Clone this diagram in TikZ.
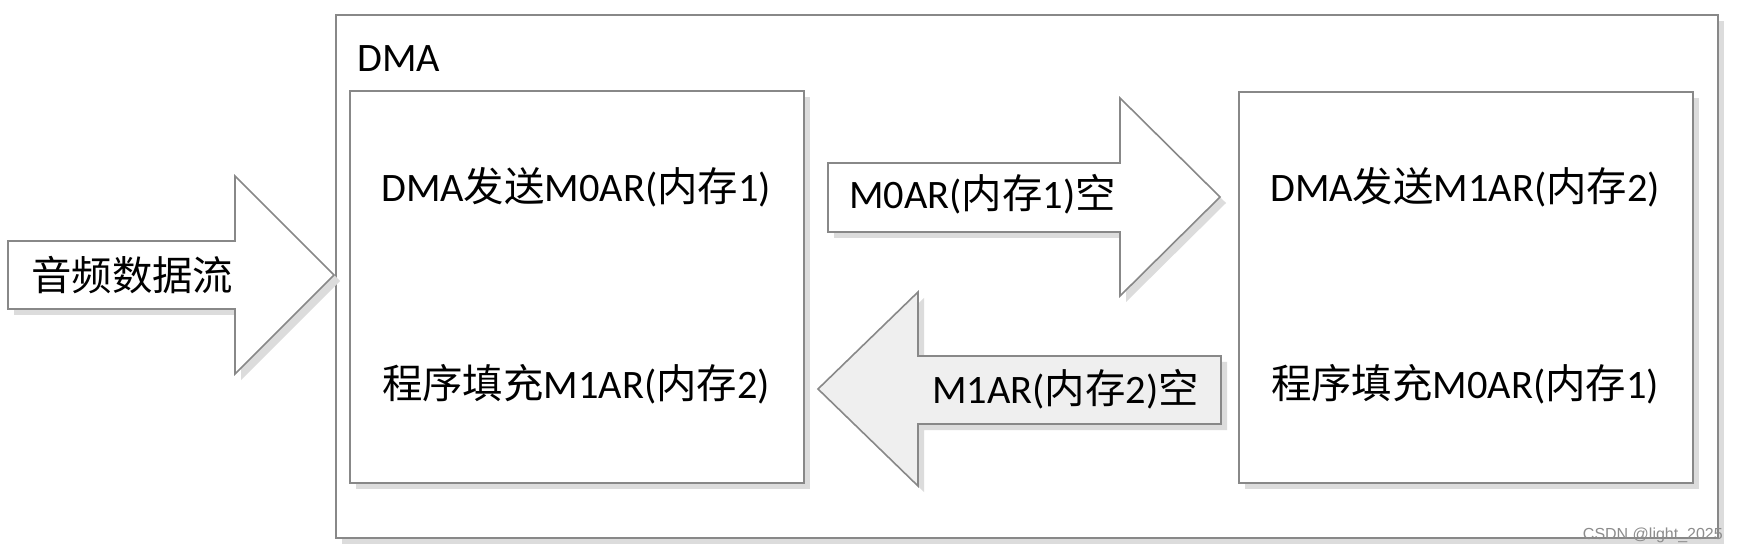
\documentclass[tikz,border=0pt]{standalone}
\usepackage{fontspec}
\setmainfont{Carlito}
\newfontfamily\cjk{Noto Sans CJK SC}
\newfontfamily\wmfont{Liberation Sans}
\newcommand{\zh}[1]{{\cjk #1}}
\usetikzlibrary{shadows}
\definecolor{linec}{HTML}{888888}
\definecolor{shadc}{HTML}{DCDCDC}
\definecolor{fillb}{HTML}{EFEFEF}
\tikzset{
  boxline/.style={draw=linec, line width=1.6pt},
  shad/.style={drop shadow={shadow xshift=6pt, shadow yshift=-6pt, fill=shadc, opacity=1}},
  panel/.style={boxline, shad, fill=white, anchor=north west, inner sep=0pt},
  bigtext/.style={inner sep=0pt, font=\fontsize{40.4}{48}\selectfont, text=black},
  arrowshape/.style={boxline, shad, line join=miter},
}
\begin{document}
\begin{tikzpicture}[x=1pt,y=-1pt]
\useasboundingbox[fill=white] (0,0) rectangle (1738,553);
% outer DMA box
\node[panel, minimum width=1382pt, minimum height=523pt] (dma) at (335,14) {};
\node[bigtext, anchor=base west] (dmalabel) at (357,72) {DMA};
% inner boxes
\node[panel, minimum width=454pt, minimum height=392pt] (left) at (349,90) {};
\node[panel, minimum width=454pt, minimum height=391pt] (right) at (1238,91) {};
% input arrow
\draw[arrowshape, fill=white] (8,241) -- (235,241) -- (235,176) -- (334,275) -- (235,374) -- (235,309) -- (8,309) -- cycle;
\node[bigtext, anchor=west] (input) at (31,275) {\zh{音频数据流}};
% arrow right (M0AR empty)
\draw[arrowshape, fill=white] (828,163) -- (1120,163) -- (1120,98) -- (1220,197) -- (1120,296) -- (1120,232) -- (828,232) -- cycle;
\node[bigtext, anchor=base west] (a1) at (849,209) {M0AR(\zh{内存}1)\zh{空}};
% arrow left (M1AR empty)
\draw[arrowshape, fill=fillb] (1221,356) -- (918,356) -- (918,292) -- (818,389) -- (918,486) -- (918,424) -- (1221,424) -- cycle;
\node[bigtext, anchor=base east] (a2) at (1199,403) {M1AR(\zh{内存}2)\zh{空}};
% texts in boxes
\node[bigtext, anchor=base] (l1) at (576,202) {DMA\zh{发送}M0AR(\zh{内存}1)};
\node[bigtext, anchor=base] (l2) at (576,399) {\zh{程序填充}M1AR(\zh{内存}2)};
\node[bigtext, anchor=base] (r1) at (1465,202) {DMA\zh{发送}M1AR(\zh{内存}2)};
\node[bigtext, anchor=base] (r2) at (1465,399) {\zh{程序填充}M0AR(\zh{内存}1)};
% watermark
\node[inner sep=0pt, anchor=base east, text=black!45, font=\wmfont\fontsize{16}{19}\selectfont] (wm) at (1723,539) {CSDN @light\_2025};
\end{tikzpicture}
\end{document}
